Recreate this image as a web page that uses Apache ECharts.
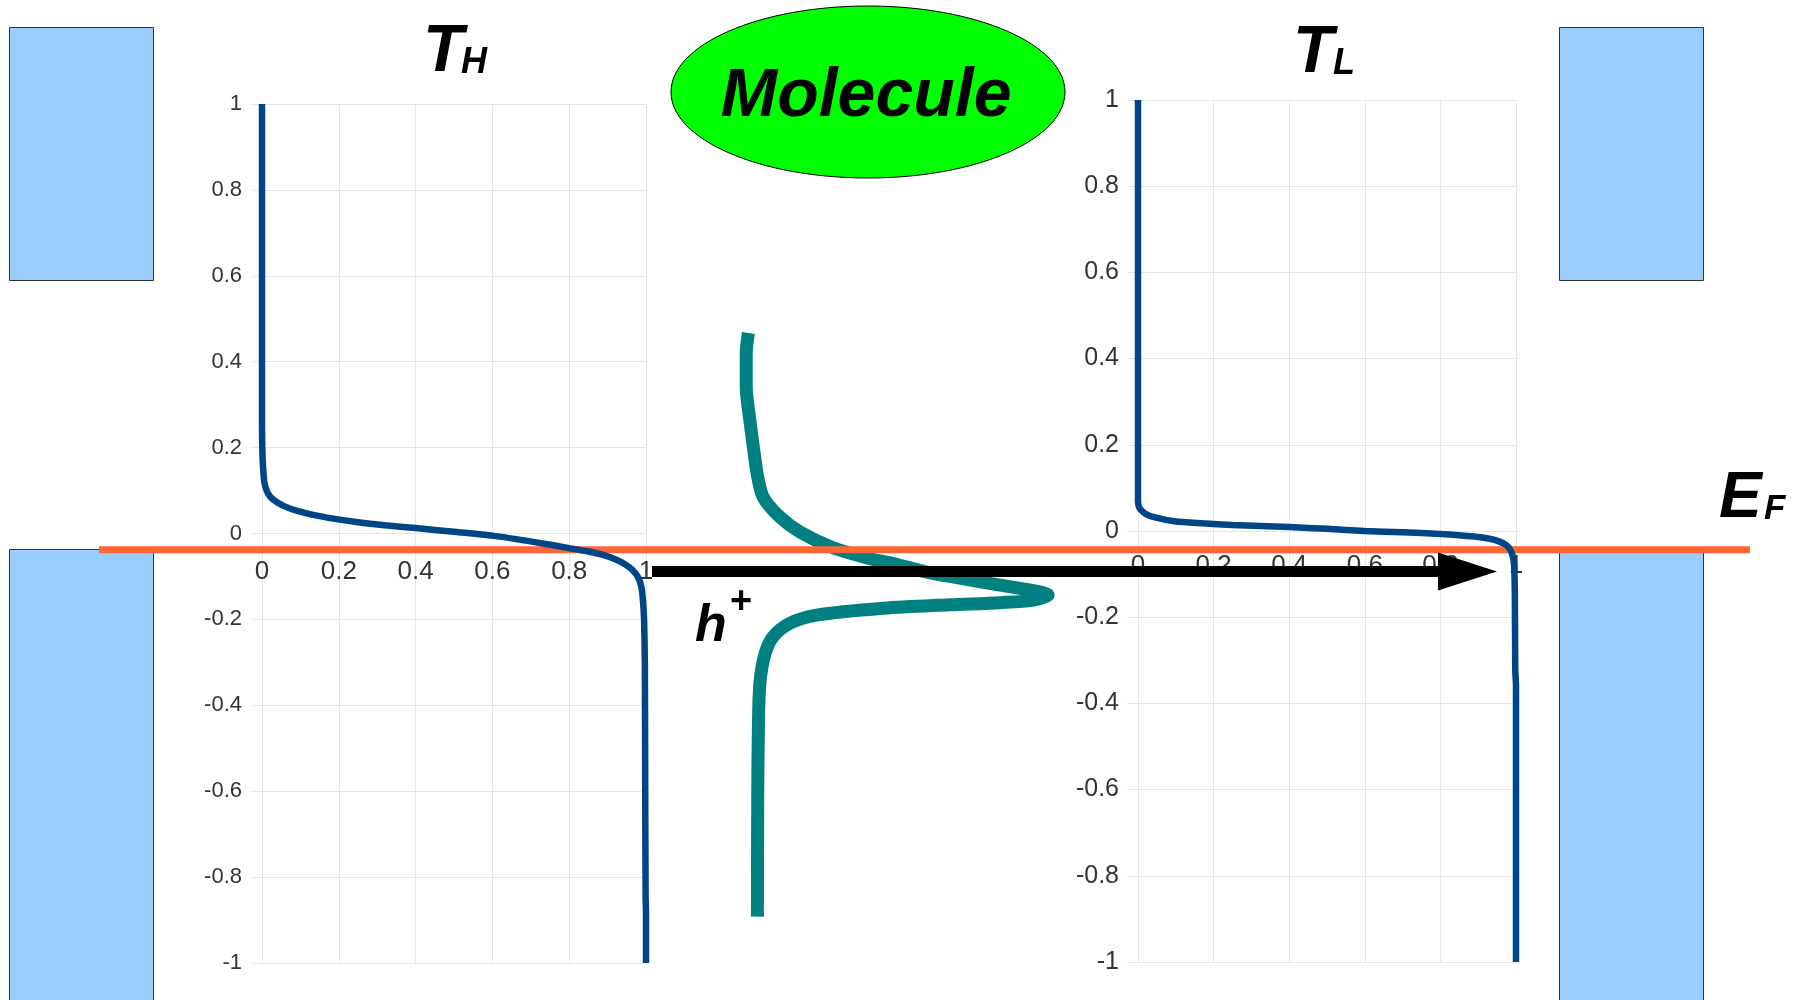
<!DOCTYPE html>
<html><head><meta charset="utf-8">
<script src="https://cdn.jsdelivr.net/npm/echarts@6/dist/echarts.min.js"></script>
<style>html,body{margin:0;padding:0;background:#fff}#c{width:1808px;height:1000px}</style>
</head><body><div id="c"></div>
<script>
// ---- data ----
const energyTicks = [-1, -0.8, -0.6, -0.4, -0.2, 0, 0.2, 0.4, 0.6, 0.8, 1];
const transTicks = [0, 0.2, 0.4, 0.6, 0.8, 1];

// T_H (hot side occupation) : transmission values and energies
const thT = [0, 0, 0, 0.001, 0.003, 0.006, 0.012, 0.022, 0.04, 0.062, 0.09, 0.13, 0.19, 0.25, 0.32, 0.40, 0.50, 0.60, 0.71, 0.80, 0.85, 0.888, 0.92, 0.946, 0.965, 0.98, 0.988, 0.992, 0.995, 0.997, 0.998, 0.999, 1, 1];
const thE = [1, 0.5, 0.25, 0.19, 0.15, 0.12, 0.10, 0.085, 0.072, 0.062, 0.053, 0.044, 0.034, 0.026, 0.019, 0.0126, 0.004, -0.005, -0.02, -0.034, -0.042, -0.05, -0.06, -0.072, -0.085, -0.103, -0.125, -0.155, -0.2, -0.3, -0.6, -0.85, -0.88, -1];

// T_L (cold side occupation)
const tlT = [0, 0, 0, 0.003, 0.01, 0.02, 0.042, 0.1, 0.17, 0.25, 0.4, 0.5, 0.6, 0.7, 0.8, 0.89, 0.93, 0.955, 0.975, 0.985, 0.992, 0.995, 0.997, 0.998, 1, 1];
const tlE = [1, 0.5, 0.07, 0.055, 0.047, 0.04, 0.032, 0.022, 0.018, 0.014, 0.009, 0.005, 0.0, -0.003, -0.007, -0.013, -0.018, -0.024, -0.033, -0.044, -0.06, -0.08, -0.15, -0.32, -0.36, -1];

// Molecular level (density of states, arbitrary units)
const dosD = [0.011, 0.004, 0.004, 0.016, 0.030, 0.042, 0.059, 0.110, 0.178, 0.280, 0.400, 0.478, 0.575, 0.661, 0.823, 0.930, 0.978, 0.930, 0.823, 0.661, 0.446, 0.231, 0.145, 0.091, 0.065, 0.048, 0.043, 0.041, 0.040];
const dosE = [0.467, 0.420, 0.342, 0.262, 0.185, 0.128, 0.084, 0.040, 0.003, -0.032, -0.058, -0.070, -0.088, -0.1, -0.12, -0.133, -0.143, -0.155, -0.161, -0.166, -0.174, -0.19, -0.209, -0.240, -0.279, -0.349, -0.465, -0.62, -0.892];

// Fermi level
const fermiLevel = -0.038;
const fermiSpan = [0, 1];

const zip = (a, b) => a.map((v, i) => [v, b[i]]);

// ---- chart ----
const chart = echarts.init(document.getElementById('c'), null, {renderer: 'canvas'});
const FONT = '"Liberation Sans", Arial, sans-serif';
const gridColor = '#e6e6e6';

const gridL = {left: 262, top: 104, width: 384, height: 859};
const gridR = {left: 1138, top: 100, width: 378, height: 862};

function yAx(gi, fs, margin) {
  return {
    type: 'value', gridIndex: gi, min: energyTicks[0], max: energyTicks[energyTicks.length - 1],
    interval: 0.2,
    axisLine: {show: false, onZero: false},
    axisTick: {show: true, length: 11, lineStyle: {color: gridColor}},
    splitLine: {show: true, lineStyle: {color: gridColor, width: 1}},
    axisLabel: {color: '#333', fontSize: fs, fontFamily: FONT, margin: margin}
  };
}
// x axis placed at energy = 0 (middle of the symmetric energy range)
function xAx(gi, fs, margin, g) {
  return {
    type: 'value', gridIndex: gi, min: transTicks[0], max: transTicks[transTicks.length - 1],
    interval: 0.2, position: 'bottom', offset: -g.height / 2,
    axisLine: {show: false, onZero: false},
    axisTick: {show: false},
    splitLine: {show: true, lineStyle: {color: gridColor, width: 1}},
    axisLabel: {color: '#333', fontSize: fs, fontFamily: FONT, margin: margin}
  };
}
const hiddenX = gi => ({type: 'value', gridIndex: gi, min: 0, max: 1, show: false});
const hiddenY = gi => ({type: 'value', gridIndex: gi, min: -1, max: 1, show: false});

const boxStyle = {fill: '#99ccff', stroke: '#333', lineWidth: 1};
const tfont = (s) => 'italic bold ' + s + 'px ' + FONT;
const gopt = {outerBoundsMode: 'none', containLabel: false};

chart.setOption({
  animation: false,
  backgroundColor: '#fff',
  grid: [
    Object.assign({}, gridL, gopt),
    Object.assign({}, gridR, gopt),
    Object.assign({left: 745, top: 104, width: 310, height: 859}, gopt),
    Object.assign({left: 99, top: 104, width: 1651, height: 859}, gopt)
  ],
  xAxis: [xAx(0, 26, 25, gridL), xAx(1, 26, 22, gridR), hiddenX(2), hiddenX(3)],
  yAxis: [yAx(0, 22, 20), yAx(1, 25, 19), hiddenY(2), hiddenY(3)],
  series: [
    {type: 'line', name: 'TH', xAxisIndex: 0, yAxisIndex: 0, data: zip(thT, thE), showSymbol: false, smooth: 0.2, clip: false, z: 5,
     lineStyle: {color: '#004586', width: 6.5}},
    {type: 'line', name: 'TL', xAxisIndex: 1, yAxisIndex: 1, data: zip(tlT, tlE), showSymbol: false, smooth: 0.2, clip: false, z: 5,
     lineStyle: {color: '#004586', width: 6.5}},
    {type: 'line', name: 'DOS', xAxisIndex: 2, yAxisIndex: 2, data: zip(dosD, dosE), showSymbol: false, smooth: 0.3, clip: false, z: 3,
     lineStyle: {color: '#008080', width: 13, cap: 'butt', join: 'round'}},
    {type: 'line', name: 'EF', xAxisIndex: 3, yAxisIndex: 3, data: fermiSpan.map(x => [x, fermiLevel]), showSymbol: false, clip: false, z: 4,
     lineStyle: {color: '#ff6633', width: 7}}
  ],
  graphic: [
    {type: 'rect', z: 1, shape: {x: 9.5, y: 27.5, width: 144, height: 253}, style: boxStyle},
    {type: 'rect', z: 1, shape: {x: 9.5, y: 549.5, width: 144, height: 460}, style: boxStyle},
    {type: 'rect', z: 1, shape: {x: 1559.5, y: 27.5, width: 144, height: 253}, style: boxStyle},
    {type: 'rect', z: 1, shape: {x: 1559.5, y: 549.5, width: 144, height: 460}, style: boxStyle},
    {type: 'ellipse', z: 1, shape: {cx: 868, cy: 92, rx: 197, ry: 86}, style: {fill: '#00ff00', stroke: '#000', lineWidth: 1}},
    {type: 'text', z: 20, style: {text: 'Molecule', x: 866, y: 97, align: 'center', verticalAlign: 'middle', font: tfont(68), fill: '#000'}},
    {type: 'text', z: 20, style: {text: 'T', x: 423, y: 52.5, align: 'left', verticalAlign: 'middle', font: tfont(66), fill: '#000'}},
    {type: 'text', z: 20, style: {text: 'H', x: 461, y: 63, align: 'left', verticalAlign: 'middle', font: tfont(36), fill: '#000'}},
    {type: 'text', z: 20, style: {text: 'T', x: 1293, y: 53.6, align: 'left', verticalAlign: 'middle', font: tfont(66), fill: '#000'}},
    {type: 'text', z: 20, style: {text: 'L', x: 1333, y: 64, align: 'left', verticalAlign: 'middle', font: tfont(36), fill: '#000'}},
    {type: 'text', z: 20, style: {text: 'E', x: 1719, y: 499, align: 'left', verticalAlign: 'middle', font: tfont(64), fill: '#000'}},
    {type: 'text', z: 20, style: {text: 'F', x: 1764, y: 509, align: 'left', verticalAlign: 'middle', font: tfont(35), fill: '#000'}},
    {type: 'text', z: 20, style: {text: 'h', x: 695, y: 627, align: 'left', verticalAlign: 'middle', font: tfont(52), fill: '#000'}},
    {type: 'text', z: 20, style: {text: '+', x: 741, y: 602.5, align: 'center', verticalAlign: 'middle', font: 'bold 38px ' + FONT, fill: '#000'}},
    {type: 'line', z: 20, shape: {x1: 652, y1: 571.5, x2: 1440, y2: 571.5}, style: {stroke: '#000', lineWidth: 11}},
    {type: 'polygon', z: 20, shape: {points: [[1438, 552.5], [1497, 571.5], [1438, 590.5]]}, style: {fill: '#000'}}
  ]
});
</script>
</body></html>
